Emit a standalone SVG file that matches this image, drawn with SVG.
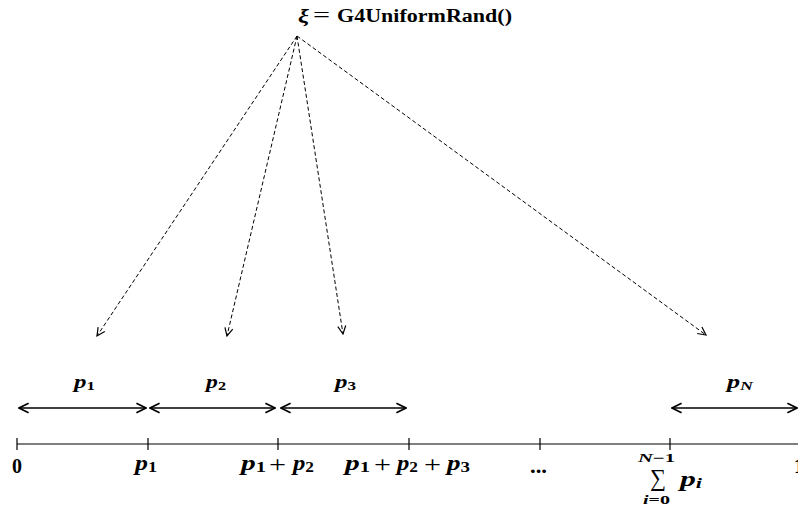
<svg xmlns="http://www.w3.org/2000/svg" width="798" height="506" viewBox="0 0 798 506">
<style>
text{font-family:"Liberation Serif","DejaVu Serif",serif;font-weight:bold;fill:#000}
.m{font-style:italic}
.pl{font-weight:normal}
.dash{fill:none;stroke:#000;stroke-width:1;stroke-dasharray:4,2.5}
.dbl{fill:none;stroke:#000;stroke-width:1.5}
.axis{fill:none;stroke:#000;stroke-width:1.2}
</style>
<defs>
<marker id="ah" viewBox="0 0 10 10" refX="9" refY="5" markerWidth="10" markerHeight="10" markerUnits="userSpaceOnUse" orient="auto">
<path d="M1,1 L9,5 L1,9" fill="none" stroke="#000" stroke-width="1.2"/>
</marker>
<marker id="ah2" viewBox="0 0 10 10" refX="9" refY="5" markerWidth="12" markerHeight="12" markerUnits="userSpaceOnUse" orient="auto-start-reverse">
<path d="M1,1 L9,5 L1,9" fill="none" stroke="#000" stroke-width="1.4"/>
</marker>
</defs>
<g id="title" font-size="18">
<text x="298" y="22" class="m" textLength="11" lengthAdjust="spacingAndGlyphs">ξ</text>
<text x="313" y="22" class="pl" font-size="20" textLength="17" lengthAdjust="spacingAndGlyphs">=</text>
<text x="337" y="22" textLength="175" lengthAdjust="spacingAndGlyphs">G4UniformRand()</text>
</g>
<g id="connectors">
<line class="dash" x1="297" y1="36" x2="97" y2="336" marker-end="url(#ah)"/>
<line class="dash" x1="297" y1="36" x2="227" y2="336" marker-end="url(#ah)"/>
<line class="dash" x1="297" y1="36" x2="343" y2="334" marker-end="url(#ah)"/>
<line class="dash" x1="297" y1="36" x2="706" y2="335" marker-end="url(#ah)"/>
<line class="dbl" x1="19" y1="408" x2="146" y2="408" marker-start="url(#ah2)" marker-end="url(#ah2)"/>
<line class="dbl" x1="150" y1="408" x2="275" y2="408" marker-start="url(#ah2)" marker-end="url(#ah2)"/>
<line class="dbl" x1="281" y1="408" x2="406" y2="408" marker-start="url(#ah2)" marker-end="url(#ah2)"/>
<line class="dbl" x1="672" y1="408" x2="797" y2="408" marker-start="url(#ah2)" marker-end="url(#ah2)"/>
</g>
<g id="interval-labels" font-size="19">
<text x="74" y="388" textLength="21" lengthAdjust="spacingAndGlyphs"><tspan class="m">p</tspan><tspan font-size="13" dy="2">1</tspan></text>
<text x="206" y="388" textLength="20" lengthAdjust="spacingAndGlyphs"><tspan class="m">p</tspan><tspan font-size="13" dy="2">2</tspan></text>
<text x="335" y="388" textLength="21" lengthAdjust="spacingAndGlyphs"><tspan class="m">p</tspan><tspan font-size="13" dy="2">3</tspan></text>
<text x="727" y="388" textLength="26" lengthAdjust="spacingAndGlyphs"><tspan class="m">p</tspan><tspan class="m" font-size="13" dy="2">N</tspan></text>
</g>
<g id="axis">
<line class="axis" x1="17" y1="444" x2="798" y2="444"/>
<path class="axis" d="M17,438V450 M148,438V450 M278,438V450 M409,438V450 M540,438V450 M670,438V450"/>
</g>
<g id="axis-labels" font-size="20">
<text x="12" y="473" textLength="10" lengthAdjust="spacingAndGlyphs">0</text>
<text x="135" y="470" textLength="22" lengthAdjust="spacingAndGlyphs"><tspan class="m">p</tspan><tspan font-size="14" dy="2">1</tspan></text>
<text x="241" y="470" textLength="25" lengthAdjust="spacingAndGlyphs"><tspan class="m">p</tspan><tspan font-size="14" dy="2">1</tspan></text>
<text x="269" y="472" class="pl" font-size="24" textLength="17" lengthAdjust="spacingAndGlyphs">+</text>
<text x="293" y="470" textLength="21" lengthAdjust="spacingAndGlyphs"><tspan class="m">p</tspan><tspan font-size="14" dy="2">2</tspan></text>
<text x="345" y="470" textLength="25" lengthAdjust="spacingAndGlyphs"><tspan class="m">p</tspan><tspan font-size="14" dy="2">1</tspan></text>
<text x="374" y="472" class="pl" font-size="24" textLength="17" lengthAdjust="spacingAndGlyphs">+</text>
<text x="397" y="470" textLength="21" lengthAdjust="spacingAndGlyphs"><tspan class="m">p</tspan><tspan font-size="14" dy="2">2</tspan></text>
<text x="424" y="472" class="pl" font-size="24" textLength="17" lengthAdjust="spacingAndGlyphs">+</text>
<text x="447" y="470" textLength="23" lengthAdjust="spacingAndGlyphs"><tspan class="m">p</tspan><tspan font-size="14" dy="2">3</tspan></text>
<text x="530" y="473" textLength="17" lengthAdjust="spacingAndGlyphs">...</text>
<text x="638" y="462" font-size="12" textLength="37" lengthAdjust="spacingAndGlyphs"><tspan class="m">N</tspan>−1</text>
<text x="650" y="486" font-size="24" class="pl" textLength="16" lengthAdjust="spacingAndGlyphs">∑</text>
<text x="643" y="504" font-size="12" textLength="27" lengthAdjust="spacingAndGlyphs"><tspan class="m">i</tspan>=0</text>
<text x="680" y="486" textLength="22" lengthAdjust="spacingAndGlyphs"><tspan class="m">p</tspan><tspan class="m" font-size="14" dy="2">i</tspan></text>
<text x="794" y="473">1</text>
</g>
</svg>
